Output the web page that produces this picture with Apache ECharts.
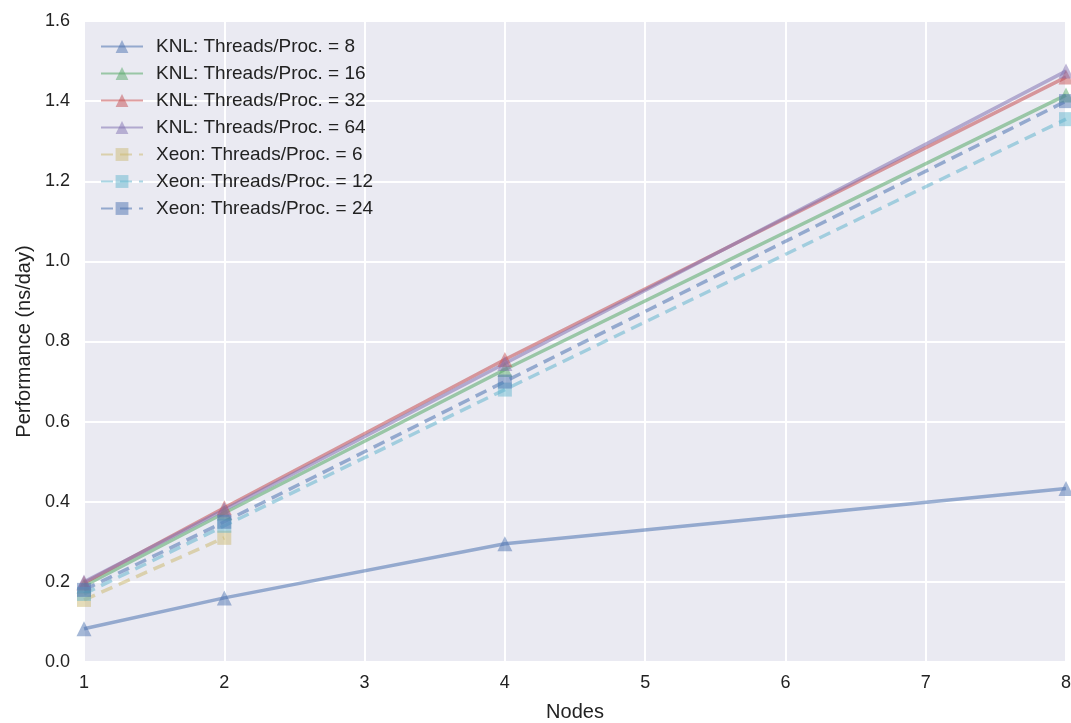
<!DOCTYPE html>
<html><head><meta charset="utf-8">
<script src="https://cdn.jsdelivr.net/npm/echarts@6/dist/echarts.min.js"></script>
<style>html,body{margin:0;padding:0;background:#fff}#c{width:1071px;height:723px}</style>
</head><body><div id="c"></div>
<script>
const nodes = [1, 2, 4, 8];
const knl8 = [0.083, 0.160, 0.295, 0.433];
const knl16 = [0.190, 0.372, 0.730, 1.415];
const knl32 = [0.197, 0.385, 0.755, 1.460];
const knl64 = [0.200, 0.380, 0.745, 1.475];
const xeon6 = [0.155, 0.310];
const xeon12 = [0.170, 0.340, 0.680, 1.355];
const xeon24 = [0.180, 0.350, 0.700, 1.400];
const names = ['KNL: Threads/Proc. = 8','KNL: Threads/Proc. = 16','KNL: Threads/Proc. = 32','KNL: Threads/Proc. = 64','Xeon: Threads/Proc. = 6','Xeon: Threads/Proc. = 12','Xeon: Threads/Proc. = 24'];
const values = [knl8, knl16, knl32, knl64, xeon6, xeon12, xeon24];
const colors = ['#4C72B0','#55A868','#C44E52','#8172B2','#CCB974','#64B5CD','#4C72B0'];
const FONT = 'Liberation Sans, Arial, sans-serif';
const series = values.map((v, i) => {
  const knl = i < 4;
  return {
    name: names[i], type: 'line',
    data: v.map((y, j) => [nodes[j], y]),
    symbol: knl ? 'triangle' : 'rect',
    symbolSize: knl ? 15 : 14,
    lineStyle: {color: colors[i], width: 3.5, opacity: 0.55, type: knl ? 'solid' : [12, 7]},
    itemStyle: {color: colors[i], opacity: 0.5},
    emphasis: {disabled: true},
    animation: false, clip: true
  };
});
const chart = echarts.init(document.getElementById('c'));
chart.setOption({
  animation: false,
  textStyle: {fontFamily: FONT},
  grid: {left: 84, right: 5, top: 21, bottom: 61, show: true, backgroundColor: '#EAEAF2', borderWidth: 0, containLabel: false, outerBoundsMode: 'none'},
  legend: {
    orient: 'vertical', left: 100, top: 37, padding: 0, itemGap: 8, itemWidth: 42, itemHeight: 16,
    textStyle: {fontSize: 19, color: '#222', fontFamily: FONT, padding: [0, 0, 0, 8]},
    data: names
  },
  xAxis: {
    type: 'value', min: 1, max: 8, interval: 1,
    name: 'Nodes', nameLocation: 'middle', nameGap: 40,
    nameTextStyle: {fontSize: 20, color: '#222', fontFamily: FONT},
    axisLine: {show: false}, axisTick: {show: false},
    axisLabel: {fontSize: 18, color: '#222', margin: 12, fontFamily: FONT},
    splitLine: {show: true, lineStyle: {color: '#fff', width: 2}}
  },
  yAxis: {
    type: 'value', min: 0, max: 1.6, interval: 0.2,
    name: 'Performance (ns/day)', nameLocation: 'middle', nameGap: 50, nameRotate: 90,
    nameTextStyle: {fontSize: 20, color: '#222', fontFamily: FONT},
    axisLine: {show: false}, axisTick: {show: false},
    axisLabel: {fontSize: 18, color: '#222', margin: 14, fontFamily: FONT, formatter: v => v.toFixed(1)},
    splitLine: {show: true, lineStyle: {color: '#fff', width: 2}}
  },
  series: series
});
</script></body></html>
